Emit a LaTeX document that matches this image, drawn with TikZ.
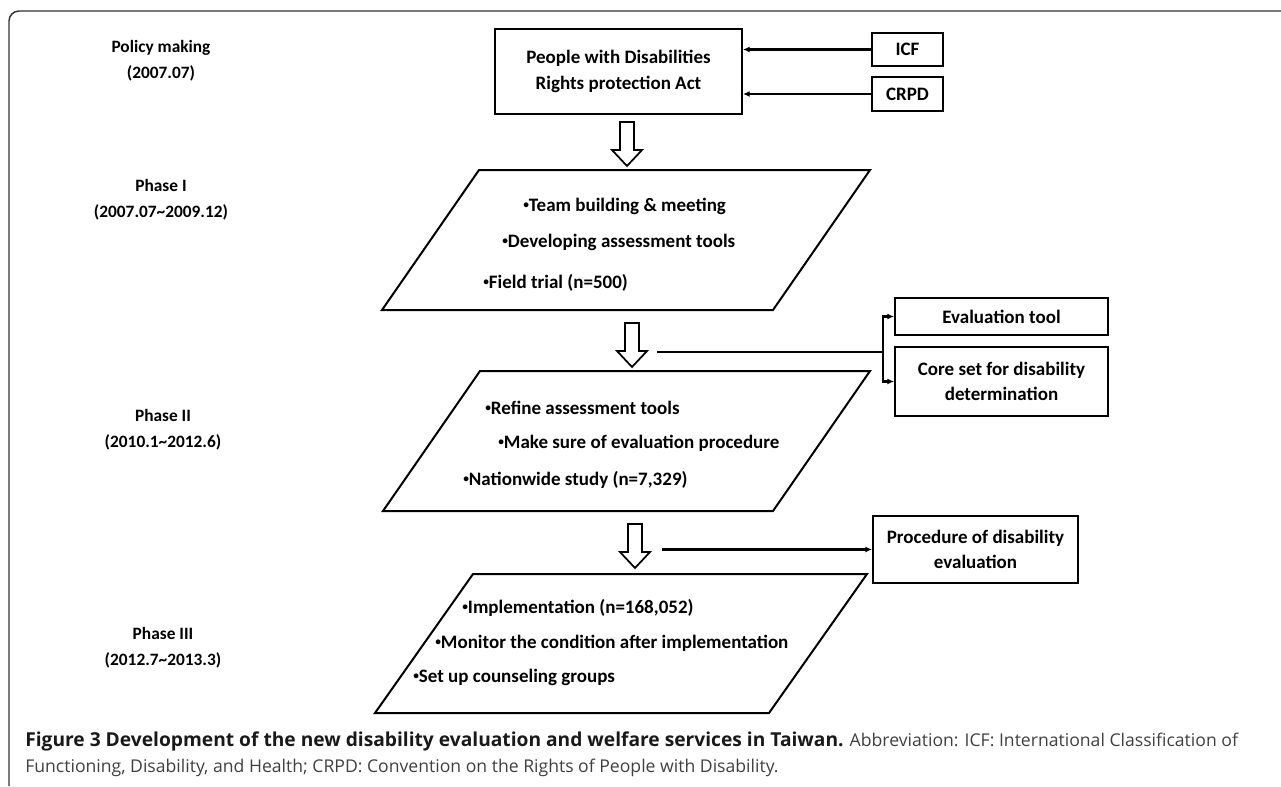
\documentclass[tikz,border=0pt]{standalone}
\usepackage{fontspec}
\usepackage{graphicx}
\setmainfont{Carlito}
\newfontfamily\capfont{Open Sans}
\usetikzlibrary{arrows.meta}
\newcommand\bul{\raisebox{0.3ex}{\scalebox{0.6}{•}}}
\begin{document}
\begin{tikzpicture}[x=0.75pt,y=-0.75pt,line join=miter,
  frame/.style={draw=black!80,line width=1.1pt},
  box/.style={draw,line width=1.5pt,inner sep=0pt,align=center,font=\fontsize{14.25}{19}\selectfont\bfseries},
  sz/.style 2 args={minimum width=#1*0.75pt,minimum height=#2*0.75pt},
  para/.style={draw,line width=1.5pt},
  lab/.style={align=center,inner sep=0pt,font=\fontsize{13}{19.5}\selectfont\bfseries},
  txt/.style={anchor=west,inner sep=0pt,font=\fontsize{14.25}{17}\selectfont\bfseries},
  con/.style={line width=1.6pt,-{Latex[length=5pt,width=4.5pt]}},
  plain/.style={line width=1.6pt},
  hollow/.pic={\draw[line width=1.3pt] (-7,0) -- (7,0) -- (7,28) -- (15,28) -- (0,44) -- (-15,28) -- (-7,28) -- cycle;},
  capb/.style={anchor=west,inner sep=0pt,font=\capfont\fontsize{13.2}{15}\selectfont}]
\useasboundingbox (0,0) rectangle (1281,786);
% frame
\draw[frame] (9,786) -- (9,21) arc[start angle=180,end angle=270,radius=10] -- (1281,11);

% left labels
\node[lab] (l0) at (161,61) {Policy making\\(2007.07)};
\node[lab] (l1) at (161,200) {Phase I\\(2007.07\char`\~2009.12)};
\node[lab] (l2) at (163,430) {Phase II\\(2010.1\char`\~2012.6)};
\node[lab] (l3) at (163,648) {Phase III\\(2012.7\char`\~2013.3)};

% top
\node[box,sz={247}{85}] (act) at (618.5,71.5) {People with Disabilities\\Rights protection Act};
\node[box,sz={71}{33}] (icf) at (907.5,49.5) {ICF};
\node[box,sz={71}{34}] (crpd) at (907.5,94) {CRPD};
\draw[con] (icf.west) -- (act.east |- icf.west);
\draw[con] (crpd.west) -- (act.east |- crpd.west);

% arrow 1
\pic at (627,122) {hollow};

% phase I parallelogram
\draw[para] (479,170) coordinate (p1a) -- (870,170) coordinate (p1b) -- (773,310) coordinate (p1c) -- (382,310) coordinate (p1d) -- cycle;
\node[txt] (t11) at (523,206) {\bul Team building \& meeting};
\node[txt] (t12) at (502,242) {\bul Developing assessment tools};
\node[txt] (t13) at (483,283) {\bul Field trial (n=500)};

% arrow 2
\pic at (632,323) {hollow};
\node[box,sz={213}{37}] (eval) at (1001.5,316.5) {Evaluation tool};
\node[box,sz={213}{69}] (core) at (1001.5,381.5) {Core set for disability\\determination};
\coordinate (s2) at (657,352);
\coordinate (j2) at (883,352);
\draw[plain] (s2) -- (j2);
\draw[con] (j2) |- (eval.west);
\draw[con] (j2) |- (core.west);

% phase II parallelogram
\draw[para] (480,371) coordinate (p2a) -- (870,371) coordinate (p2b) -- (773,511) coordinate (p2c) -- (383,511) coordinate (p2d) -- cycle;
\node[txt] (t21) at (485,408) {\bul Refine assessment tools};
\node[txt] (t22) at (498,443) {\bul Make sure of evaluation procedure};
\node[txt] (t23) at (463,480) {\bul Nationwide study (n=7,329)};

% arrow 3
\pic at (635,524) {hollow};
\node[box,sz={205}{67}] (proc) at (975.5,549.5) {Procedure of disability\\evaluation};
\coordinate (s3) at (662,549.5);
\draw[con] (s3) -- (proc.west);

% phase III parallelogram
\draw[para] (473,574) coordinate (p3a) -- (867,574) coordinate (p3b) -- (769,713) coordinate (p3c) -- (375,713) coordinate (p3d) -- cycle;
\node[txt] (t31) at (462,608) {\bul Implementation (n=168,052)};
\node[txt] (t32) at (435,643) {\bul Monitor the condition after implementation};
\node[txt] (t33) at (413,677) {\bul Set up counseling groups};

% caption
\node[capb] (cap1) at (25,741) {{\fontsize{14.4}{15}\selectfont\bfseries\color{black!90}Figure 3 Development of the new disability evaluation and welfare services in Taiwan.} {\color{black!75}Abbreviation: ICF: International Classification of}};
\node[capb] (cap2) at (25,768) {\color{black!75}Functioning, Disability, and Health; CRPD: Convention on the Rights of People with Disability.};
\end{tikzpicture}
\end{document}
